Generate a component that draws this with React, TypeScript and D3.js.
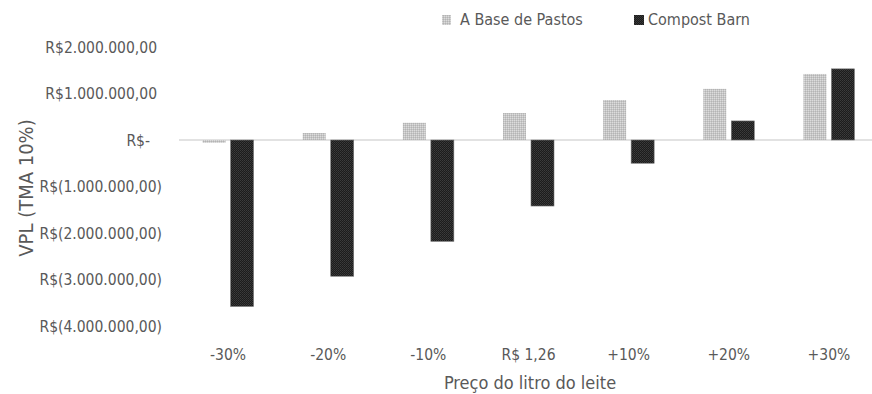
import React from "react";
import * as d3 from "d3";

const categories = ["-30%", "-20%", "-10%", "R$ 1,26", "+10%", "+20%", "+30%"];
const seriesNames = ["A Base de Pastos", "Compost Barn"];
const pastos = [-60000, 150000, 370000, 580000, 860000, 1100000, 1420000];
const compost = [-3580000, -2930000, -2180000, -1420000, -500000, 410000, 1530000];
const yTicks = [2000000, 1000000, 0, -1000000, -2000000, -3000000, -4000000];

const W = 872, H = 394;
const FONT = "'Liberation Sans Narrow', 'DejaVu Sans Condensed', 'Open Sans', sans-serif";

function fmt(v: number) {
  if (v === 0) return "R$-";
  const s = d3.format(",.2f")(Math.abs(v)).replace(/,/g, "#").replace(".", ",").replace(/#/g, ".");
  return v < 0 ? `R$(${s})` : `R$${s}`;
}

export default function App() {
  const x = d3.scaleBand<string>().domain(categories).range([178, 879]).paddingInner(0).paddingOuter(0);
  const y = d3.scaleLinear().domain([-4000000, 2000000]).range([326, 47]);
  const bw = 23;
  const gap = 2.5;
  const zero = y(0);
  return (
    <svg width={W} height={H} style={{ position: "absolute", left: 0, top: 0, background: "#fff" }}>
      <defs>
        <pattern id="pPastos" width="2" height="2" patternUnits="userSpaceOnUse">
          <rect width="2" height="2" fill="#c6c6c6" />
          <rect x="0" y="0" width="1" height="1" fill="#dcdcdc" />
          <rect x="1" y="1" width="1" height="1" fill="#b4b4b4" />
        </pattern>
        <pattern id="pCompost" width="2" height="2" patternUnits="userSpaceOnUse">
          <rect width="2" height="2" fill="#1c1c1c" />
          <rect x="0" y="0" width="1" height="1" fill="#3c3c3c" />
          <rect x="1" y="1" width="1" height="1" fill="#333" />
        </pattern>
      </defs>
      <line x1={179} x2={872} y1={zero} y2={zero} stroke="#d9d9d9" strokeWidth={1.5} />
      {categories.map((c, i) => {
        const cx = (x(c) as number) + x.bandwidth() / 2;
        const p = pastos[i], q = compost[i];
        return (
          <g key={c}>
            <rect x={cx - gap - bw} y={Math.min(y(p), zero)} width={bw} height={Math.abs(y(p) - zero)} fill="url(#pPastos)" />
            <rect x={cx + gap} y={Math.min(y(q), zero)} width={bw} height={Math.abs(y(q) - zero)} fill="url(#pCompost)" stroke="#777" strokeWidth={0.6} />
            <text x={cx} y={360} textAnchor="middle" fontFamily={FONT} fontSize={15.5} fill="#595959">{c}</text>
          </g>
        );
      })}
      {yTicks.map((t) => (
        <text key={t} x={t < 0 ? 162 : t === 0 ? 150 : 157} y={y(t) + 5.5} textAnchor="end" fontFamily={FONT} fontSize={15.5} fill="#595959">{fmt(t)}</text>
      ))}
      <text transform={`translate(33,188) rotate(-90)`} textAnchor="middle" fontFamily={FONT} fontSize={20} fill="#595959">VPL (TMA 10%)</text>
      <text x={530} y={389} textAnchor="middle" fontFamily={FONT} fontSize={18} fill="#595959">Preço do litro do leite</text>
      <rect x={442} y={15} width={9} height={10} fill="url(#pPastos)" />
      <text x={460} y={25} fontFamily={FONT} fontSize={16} fill="#595959">{seriesNames[0]}</text>
      <rect x={634} y={15} width={10} height={10} fill="url(#pCompost)" />
      <text x={648} y={25} fontFamily={FONT} fontSize={16} fill="#595959">{seriesNames[1]}</text>
    </svg>
  );
}
